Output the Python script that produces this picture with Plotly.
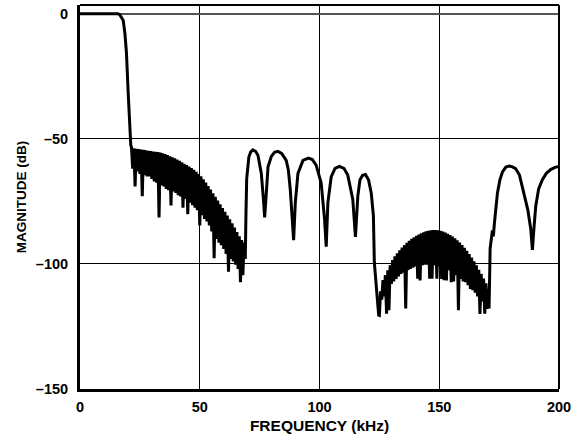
import plotly.graph_objects as go

# Passband and transition band
pass_f = [0.0, 15.8, 16.6, 17.3, 18.06, 18.75, 19.4, 20.1, 20.8, 21.2]
pass_db = [0.0, 0.0, -0.4, -1.3, -2.7, -7.9, -15.6, -31.2, -46.9, -52.5]

# First stopband ripple region (21.5 - 68 kHz)
stop1_f = [21.5, 22.0, 22.5, 23.0, 23.5, 24.0, 24.5, 25.0, 25.5, 26.0, 26.5, 27.0, 27.5, 28.0,
           28.5, 29.0, 29.5, 30.0, 30.5, 31.0, 31.5, 32.0, 32.5, 33.0, 33.5, 34.0, 34.5, 35.0,
           35.5, 36.0, 36.5, 37.0, 37.5, 38.0, 38.5, 39.0, 39.5, 40.0, 40.5, 41.0, 41.5, 42.0,
           42.5, 43.0, 43.5, 44.0, 44.5, 45.0, 45.5, 46.0, 46.5, 47.0, 47.5, 48.0, 48.5, 49.0,
           49.5, 50.0, 50.5, 51.0, 51.5, 52.0, 52.5, 53.0, 53.5, 54.0, 54.5, 55.0, 55.5, 56.0,
           56.5, 57.0, 57.5, 58.0, 58.5, 59.0, 59.5, 60.0, 60.5, 61.0, 61.5, 62.0, 62.5, 63.0,
           63.5, 64.0, 64.5, 65.0, 65.5, 66.0, 66.5, 67.0, 67.5, 68.0]
stop1_db = [-53.5, -61.9, -53.8, -69.0, -54.0, -63.0, -54.1, -64.0, -54.3, -72.9, -54.4, -64.5, -54.6, -65.0,
            -54.8, -65.0, -54.9, -66.0, -55.1, -67.0, -55.2, -67.5, -55.3, -81.4, -55.5, -68.5, -55.8, -69.0,
            -56.1, -70.0, -56.5, -70.5, -57.0, -76.6, -57.4, -71.0, -57.8, -71.6, -58.3, -72.5, -58.8, -73.0,
            -59.4, -77.5, -60.0, -74.0, -60.5, -80.1, -61.1, -75.5, -61.7, -76.5, -62.4, -77.5, -63.2, -78.5,
            -64.1, -84.6, -65.0, -80.5, -66.2, -82.0, -67.5, -83.0, -68.9, -84.6, -70.3, -87.0, -71.8, -97.7,
            -73.2, -90.0, -74.7, -91.5, -76.2, -92.5, -77.7, -94.0, -79.2, -96.0, -80.7, -103.1, -82.2, -98.0,
            -83.8, -99.0, -85.5, -100.3, -87.3, -102.0, -89.0, -107.3, -90.5, -104.5]

# Sidelobes between the two ripple regions
lobe1_f = [68.5, 69.0, 69.3, 69.6, 70.5, 71.3, 72.2, 73.3, 74.3, 75.7, 76.7, 77.1, 77.8, 78.5,
           79.9, 81.2, 82.6, 84.2, 86.1, 87.0, 87.8, 88.9, 89.2, 89.9, 91.0, 93.1, 95.4, 97.0,
           98.6, 100.7, 102.1, 102.8, 103.5, 104.9, 106.5, 108.3, 110.2, 111.8, 113.9, 115.0, 116.0,
           116.9, 118.0, 119.2, 120.5, 121.6, 122.5, 122.9, 123.6, 124.2, 124.7]
lobe1_db = [-91.5, -98.0, -80.0, -66.0, -57.3, -55.2, -54.4, -55.0, -56.6, -63.8, -75.5, -81.4, -71.6, -61.2,
            -57.0, -55.4, -55.0, -55.8, -58.6, -62.5, -70.3, -84.6, -90.5, -75.5, -63.8, -58.6, -57.7, -58.3,
            -60.5, -67.7, -82.0, -93.1, -75.5, -65.1, -61.8, -61.0, -61.8, -64.5, -74.2, -89.2, -72.9,
            -66.4, -64.6, -64.3, -66.5, -71.6, -80.7, -99.5, -108.7, -114.0, -120.5]

# Second stopband ripple region (125 - 170.5 kHz)
stop2_f = [125.0, 125.5, 126.0, 126.5, 127.0, 127.5, 128.0, 128.5, 129.0, 129.5, 130.0, 130.5, 131.0,
           131.5, 132.0, 132.5, 133.0, 133.5, 134.0, 134.5, 135.0, 135.5, 136.0, 136.5, 137.0, 137.5,
           138.0, 138.5, 139.0, 139.5, 140.0, 140.5, 141.0, 141.5, 142.0, 142.5, 143.0, 143.5, 144.0,
           144.5, 145.0, 145.5, 146.0, 146.5, 147.0, 147.5, 148.0, 148.5, 149.0, 149.5, 150.0, 150.5,
           151.0, 151.5, 152.0, 152.5, 153.0, 153.5, 154.0, 154.5, 155.0, 155.5, 156.0, 156.5, 157.0,
           157.5, 158.0, 158.5, 159.0, 159.5, 160.0, 160.5, 161.0, 161.5, 162.0, 162.5, 163.0, 163.5,
           164.0, 164.5, 165.0, 165.5, 166.0, 166.5, 167.0, 167.5, 168.0, 168.5, 169.0, 169.5, 170.0,
           170.5]
stop2_db = [-120.6, -111.0, -114.3, -106.5, -113.0, -104.5, -119.9, -102.5, -118.5, -100.5, -108.0, -98.5, -107.0,
            -97.0, -106.0, -95.8, -105.0, -94.6, -104.0, -93.5, -103.5, -92.5, -117.8, -91.6, -102.5, -90.8,
            -102.0, -90.0, -101.5, -89.4, -101.0, -88.8, -105.9, -88.3, -106.6, -87.8, -100.5, -87.4, -100.3,
            -87.0, -100.3, -86.8, -105.9, -86.6, -105.9, -86.5, -100.5, -86.5, -105.9, -86.6, -101.0, -86.8,
            -106.0, -87.1, -106.5, -87.5, -106.6, -88.0, -102.5, -88.5, -107.3, -89.1, -107.0, -89.8, -104.5,
            -90.6, -118.5, -91.5, -106.0, -92.5, -107.0, -93.6, -107.3, -94.8, -108.5, -96.1, -110.0, -97.5,
            -110.5, -99.0, -111.5, -100.6, -113.0, -102.3, -120.0, -104.0, -115.0, -105.8, -119.9, -107.8, -118.0,
            -110.0]

# Upper sidelobes (170.8 - 200 kHz)
lobe2_f = [170.8, 171.25, 172.2, 172.6, 173.0, 174.3, 175.3, 176.4, 177.8, 179.2, 180.6, 181.9,
           183.5, 185.4, 187.0, 188.2, 188.9, 189.6, 190.3, 191.5, 193.0, 194.7, 196.5, 198.3, 200.0]
lobe2_db = [-117.8, -93.8, -86.6, -89.0, -84.0, -71.6, -66.5, -63.2, -61.3, -60.9, -61.2, -61.9,
            -64.5, -71.6, -78.5, -86.0, -94.4, -85.0, -76.8, -70.0, -66.4, -63.8, -62.3, -61.4, -61.0]

x_ticks = [0, 50, 100, 150, 200]
x_tick_labels = ["0", "50", "100", "150", "200"]
y_ticks = [-150, -100, -50, 0]
y_tick_labels = ["\u2013150", "\u2013100", "\u201350", "0"]

freq = pass_f + stop1_f + lobe1_f + stop2_f + lobe2_f
mag = pass_db + stop1_db + lobe1_db + stop2_db + lobe2_db

FONT = "Liberation Sans, Arial, Helvetica, sans-serif"

fig = go.Figure()
fig.add_trace(go.Scatter(x=freq, y=mag, mode="lines",
                         line=dict(color="black", width=3), showlegend=False,
                         hoverinfo="skip"))

fig.update_layout(
    width=588, height=441,
    margin=dict(l=80, r=29, t=5, b=52),
    paper_bgcolor="white", plot_bgcolor="white",
    font=dict(family=FONT, color="black", size=14, weight="bold"),
    xaxis=dict(range=[0, 200], tickvals=x_ticks, ticktext=x_tick_labels,
               showgrid=True, gridcolor="black", gridwidth=1,
               showline=True, linecolor="black", linewidth=3, mirror=False,
               zeroline=False, ticks="", ticklabelstandoff=3,
               tickfont=dict(family=FONT, size=14.5, weight="bold"),
               title=dict(text="FREQUENCY (kHz)", standoff=6,
                          font=dict(family=FONT, size=15.5, weight="bold"))),
    yaxis=dict(range=[-150, 3.5], tickvals=y_ticks, ticktext=y_tick_labels,
               showgrid=True, gridcolor="black", gridwidth=1,
               showline=True, linecolor="black", linewidth=3, mirror=False,
               zeroline=True, zerolinecolor="#555555", zerolinewidth=2,
               ticks="", ticklabelstandoff=6,
               tickfont=dict(family=FONT, size=14.5, weight="bold"),
               title=dict(text="MAGNITUDE (dB)", standoff=7,
                          font=dict(family=FONT, size=13.5, weight="bold"))),
    shapes=[
        dict(type="line", xref="paper", yref="paper", x0=0, x1=1, y0=1, y1=1,
             line=dict(color="black", width=2)),
        dict(type="line", xref="paper", yref="paper", x0=1, x1=1, y0=0, y1=1,
             line=dict(color="black", width=2)),
    ],
)

fig.write_html("out.html", config={"displayModeBar": False, "staticPlot": True},
               post_script="document.body.style.margin='0';document.body.style.overflow='hidden';")
